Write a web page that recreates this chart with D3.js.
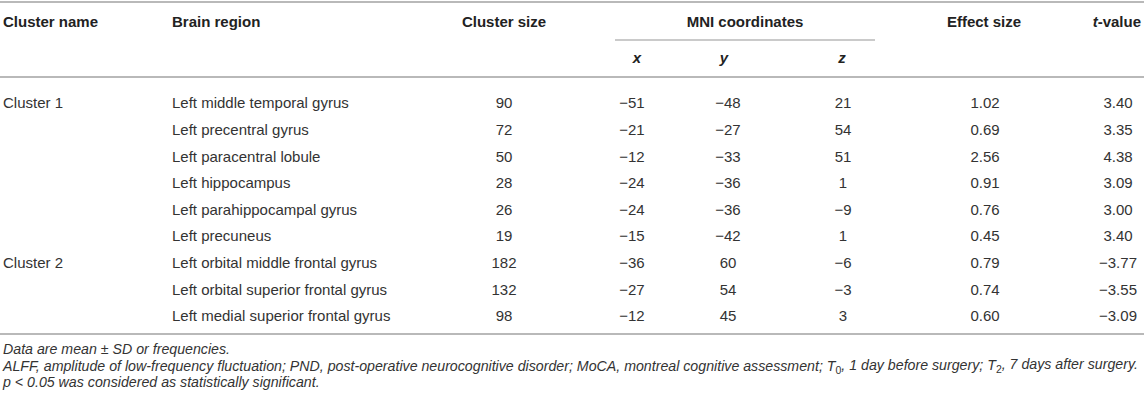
<!DOCTYPE html>
<html>
<head>
<meta charset="utf-8">
<script src="https://cdn.jsdelivr.net/npm/d3@7"></script>
<style>
  body { margin: 0; background: #fff; }
  text { font-family: "Liberation Sans", Arial, Helvetica, sans-serif; }
</style>
</head>
<body>
<div id="table"></div>
<script>
// table values
const clusterNames = ["Cluster 1", "", "", "", "", "", "Cluster 2", "", ""];
const brainRegions = [
  "Left middle temporal gyrus", "Left precentral gyrus", "Left paracentral lobule",
  "Left hippocampus", "Left parahippocampal gyrus", "Left precuneus",
  "Left orbital middle frontal gyrus", "Left orbital superior frontal gyrus",
  "Left medial superior frontal gyrus"
];
const clusterSizes = [90, 72, 50, 28, 26, 19, 182, 132, 98];
const mniX = [-51, -21, -12, -24, -24, -15, -36, -27, -12];
const mniY = [-48, -27, -33, -36, -36, -42, 60, 54, 45];
const mniZ = [21, 54, 51, 1, -9, 1, -6, -3, 3];
const effectSizes = [1.02, 0.69, 2.56, 0.91, 0.76, 0.45, 0.79, 0.74, 0.60];
const tValues = [3.40, 3.35, 4.38, 3.09, 3.00, 3.40, -3.77, -3.55, -3.09];

var width = 1144, height = 403;
var fs = 15;

var svg = d3.select("#table")
  .append("svg")
    .attr("width", width)
    .attr("height", height);

// row positions
var rows = d3.range(brainRegions.length);
var y = d3.scalePoint()
    .domain(rows)
    .range([103, 316]);

var fInt = d3.format("d"),
    f2 = d3.format(".2f");

// column layout: x position and anchor
var cols = [
  {key: "name", x: 3, anchor: "start", vals: clusterNames},
  {key: "region", x: 172, anchor: "start", vals: brainRegions},
  {key: "size", x: 504, anchor: "middle", vals: clusterSizes.map(fInt)},
  {key: "x", x: 632, anchor: "middle", vals: mniX.map(fInt)},
  {key: "y", x: 728, anchor: "middle", vals: mniY.map(fInt)},
  {key: "z", x: 843, anchor: "middle", vals: mniZ.map(fInt)},
  {key: "es", x: 985, anchor: "middle", vals: effectSizes.map(f2)},
  {key: "t", x: 1118, anchor: "middle", vals: tValues.map(f2)}
];

var lineColor = "#b9b9b9";
function hline(x1, x2, yy, w) {
  svg.append("line")
    .attr("x1", x1).attr("x2", x2)
    .attr("y1", yy).attr("y2", yy)
    .attr("stroke", lineColor)
    .attr("stroke-width", w);
}

hline(0, width, 2, 2);
hline(615, 875, 40, 1.5);
hline(0, width, 77, 2);
hline(0, width, 334, 2);

// header row 1
var head = svg.append("g")
    .style("font-size", fs + "px")
    .style("font-weight", "bold")
    .attr("fill", "#222");

head.append("text").attr("x", 3).attr("y", 22).attr("dy", "0.35em").text("Cluster name");
head.append("text").attr("x", 172).attr("y", 22).attr("dy", "0.35em").text("Brain region");
head.append("text").attr("x", 504).attr("y", 22).attr("dy", "0.35em").attr("text-anchor", "middle").text("Cluster size");
head.append("text").attr("x", 745).attr("y", 22).attr("dy", "0.35em").attr("text-anchor", "middle").text("MNI coordinates");
head.append("text").attr("x", 984).attr("y", 22).attr("dy", "0.35em").attr("text-anchor", "middle").text("Effect size");
var tv = head.append("text").attr("x", 1141).attr("y", 22).attr("dy", "0.35em").attr("text-anchor", "end");
tv.append("tspan").style("font-style", "italic").text("t");
tv.append("tspan").text("-value");

// header row 2 (x, y, z)
[["x", 637], ["y", 724], ["z", 842]].forEach(function(d) {
  head.append("text")
    .attr("x", d[1]).attr("y", 58).attr("dy", "0.35em")
    .attr("text-anchor", "middle")
    .style("font-style", "italic")
    .text(d[0]);
});

// body cells
var body = svg.append("g")
    .style("font-size", fs + "px")
    .attr("fill", "#333");

cols.forEach(function(c) {
  body.selectAll("text.c-" + c.key)
    .data(rows)
    .enter()
    .append("text")
      .attr("class", "c-" + c.key)
      .attr("x", c.x)
      .attr("y", function(i) { return y(i); })
      .attr("dy", "0.35em")
      .attr("text-anchor", c.anchor)
      .text(function(i) { return c.vals[i]; });
});

// footnotes
var foot = svg.append("g")
    .style("font-size", "14.2px")
    .style("font-style", "italic")
    .attr("fill", "#333");

foot.append("text").attr("x", 3).attr("y", 349).attr("dy", "0.35em")
  .text("Data are mean \u00b1 SD or frequencies.");

var f2t = foot.append("text").attr("x", 3).attr("y", 366).attr("dy", "0.35em");
f2t.append("tspan").text("ALFF, amplitude of low-frequency fluctuation; PND, post-operative neurocognitive disorder; MoCA, montreal cognitive assessment; T");
f2t.append("tspan").attr("dy", "0.3em").style("font-size", "10.5px").style("font-style", "normal").text("0");
f2t.append("tspan").attr("dy", "-0.3em").text(", 1 day before surgery; T");
f2t.append("tspan").attr("dy", "0.3em").style("font-size", "10.5px").style("font-style", "normal").text("2");
f2t.append("tspan").attr("dy", "-0.3em").text(", 7 days after surgery.");

foot.append("text").attr("x", 3).attr("y", 382).attr("dy", "0.35em")
  .text("p < 0.05 was considered as statistically significant.");
</script>
</body>
</html>
